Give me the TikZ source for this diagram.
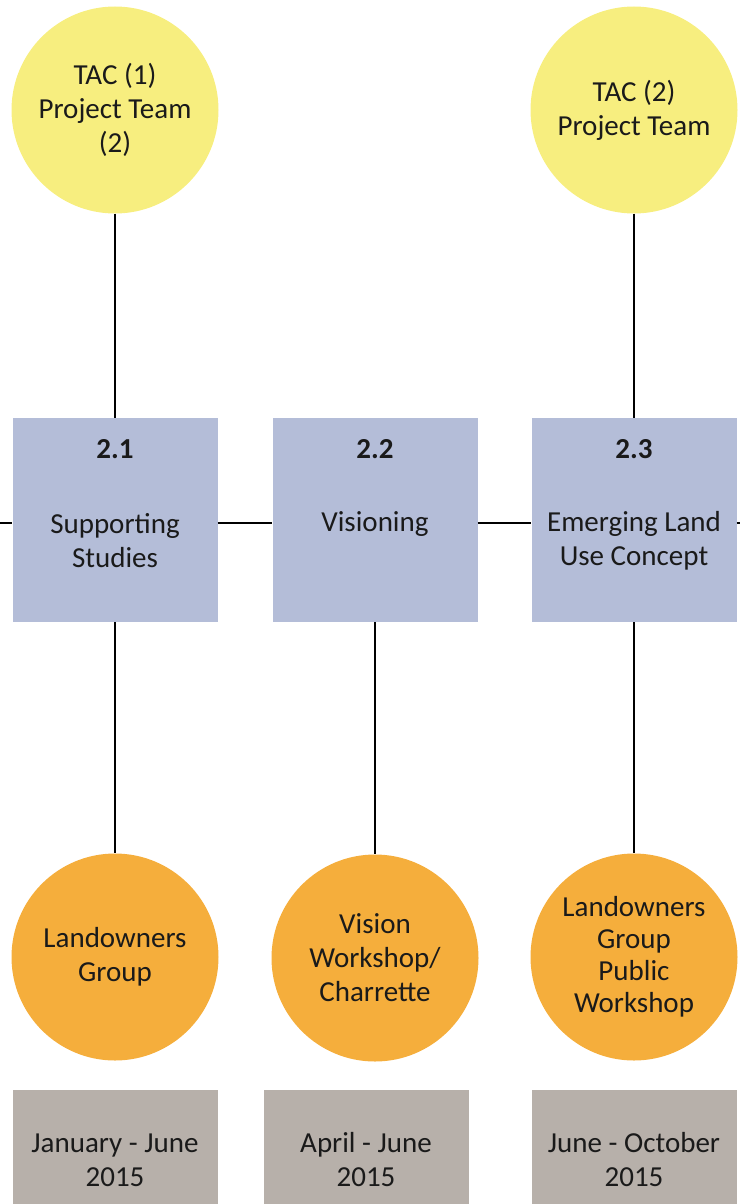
\documentclass[tikz,border=0pt]{standalone}
\usepackage{fontspec}
\setmainfont{Carlito}
\definecolor{yel}{HTML}{F7EE7F}
\definecolor{org}{HTML}{F5AE3C}
\definecolor{blu}{HTML}{B4BDD8}
\definecolor{gry}{HTML}{B7B0AA}
\definecolor{txt}{HTML}{1A1A1A}
\begin{document}
\begin{tikzpicture}[x=1pt,y=-1pt,
 every node/.style={font=\fontsize{29}{34}\selectfont, text=txt, align=center},
 yc/.style={circle, fill=yel, minimum size=207pt, inner sep=0pt},
 oc/.style={circle, fill=org, minimum size=207pt, inner sep=0pt},
 bx/.style={rectangle, fill=blu, minimum width=205pt, minimum height=204pt, inner sep=0pt},
 gb/.style={rectangle, fill=gry, minimum width=205pt, minimum height=140pt, inner sep=0pt},
 ln/.style={line width=1.5pt, black}]
\useasboundingbox (0,0) rectangle (740,1204);
% yellow circles
\node[yc] (y1) at (115,110) {TAC (1)\\Project Team\\(2)};
\node[yc] (y3) at (634,110) {TAC (2)\\Project Team};
% blue boxes
\node[bx] (b1) at (115,520) {};
\node[bx] (b2) at (375,520) {};
\node[bx] (b3) at (634,520) {};
\node[font=\fontsize{29}{34}\selectfont\bfseries] (n1) at (115,449) {2.1};
\node[font=\fontsize{29}{34}\selectfont\bfseries] (n2) at (375,449) {2.2};
\node[font=\fontsize{29}{34}\selectfont\bfseries] (n3) at (634,449) {2.3};
\node (t1) at (115,541) {Supporting\\Studies};
\node (t2) at (375,524) {Visioning};
\node (t3) at (634,541) {Emerging Land\\Use Concept};
% orange circles
\node[oc] (o1) at (115,957) {Landowners\\Group};
\node[oc] (o2) at (375,958) {Vision\\Workshop/\\Charrette};
\node[oc, font=\fontsize{29}{32}\selectfont] (o3) at (634,957) {Landowners\\Group\\Public\\Workshop};
% gray boxes
\node[gb] (g1) at (115,1160) {January - June\\2015};
\node[gb] (g2) at (366,1160) {April - June\\2015};
\node[gb] (g3) at (634,1160) {June - October\\2015};
% connectors
\coordinate (L) at (0,523);
\coordinate (R) at (740,523);
\draw[ln] (y1.south) -- (b1.north);
\draw[ln] (y3.south) -- (b3.north);
\draw[ln] (b1.south) -- (o1.north);
\draw[ln] (b2.south) -- (o2.north);
\draw[ln] (b3.south) -- (o3.north);
\draw[ln] (L) -- (b1.west |- L);
\draw[ln] (b1.east |- L) -- (b2.west |- L);
\draw[ln] (b2.east |- L) -- (b3.west |- L);
\draw[ln] (b3.east |- L) -- (R);
\end{tikzpicture}
\end{document}
